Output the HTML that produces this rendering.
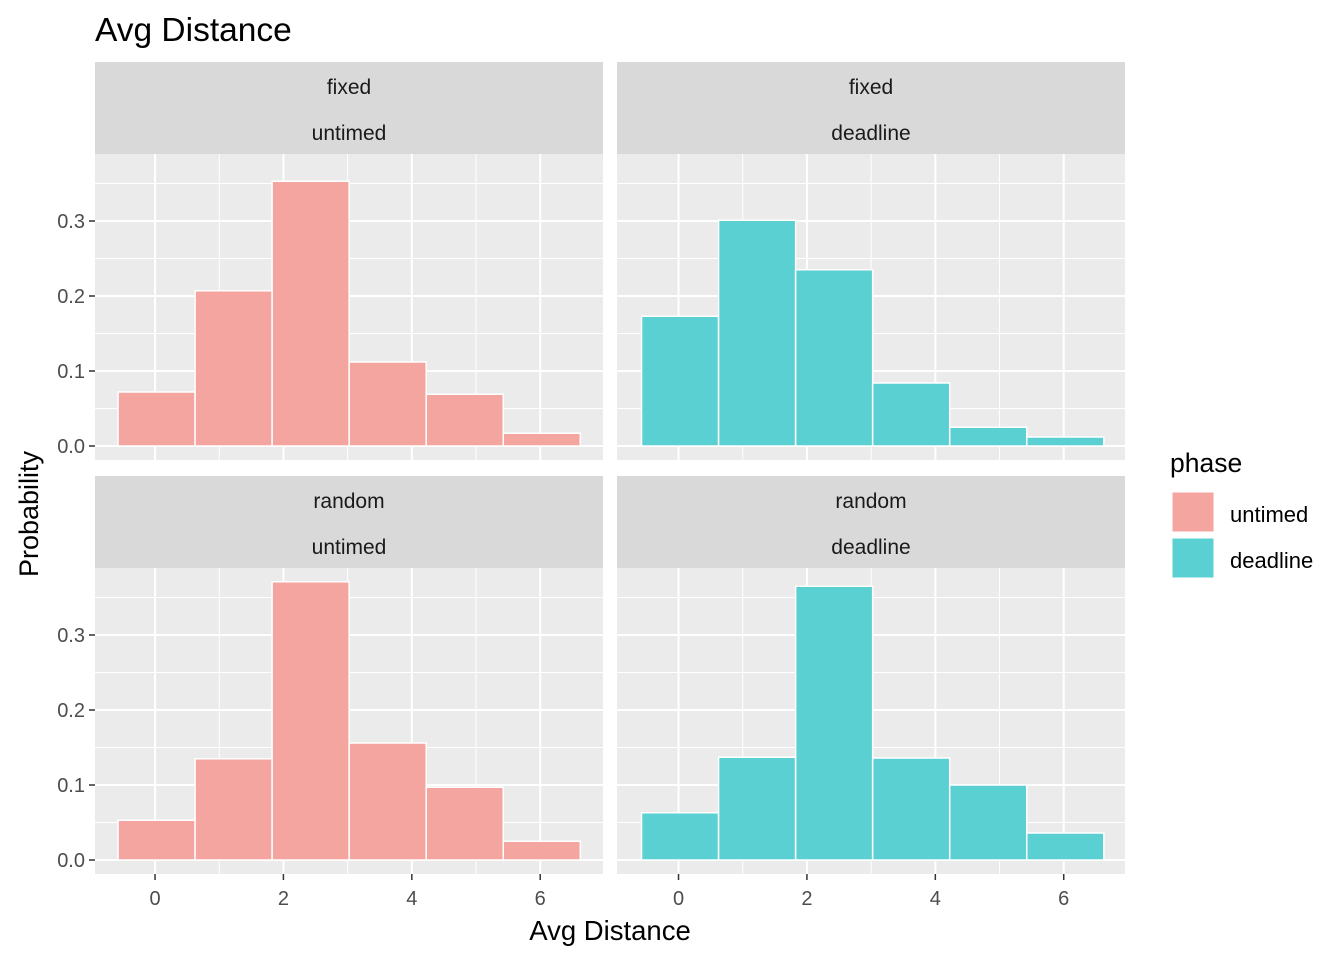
<!DOCTYPE html>
<html><head><meta charset="utf-8"><style>
body{margin:0;background:#fff;font-family:"Liberation Sans",Arial,sans-serif}
svg text{font-family:"Liberation Sans",Arial,sans-serif}
</style></head><body>
<svg id="c" width="1344" height="960" xmlns="http://www.w3.org/2000/svg">
<rect width="1344" height="960" fill="#fff"/>
<text x="95" y="41" font-size="33.5" fill="#000">Avg Distance</text>
<text x="610" y="940" font-size="27.5" text-anchor="middle">Avg Distance</text>
<text transform="translate(38,514) rotate(-90)" font-size="27" text-anchor="middle">Probability</text>
<g>
<text x="1170" y="472" font-size="26.5">phase</text>
<rect x="1172" y="492" width="42" height="40" fill="#F4A59F" stroke="#fff"/>
<text x="1230" y="522" font-size="22">untimed</text>
<rect x="1172" y="538" width="42" height="40" fill="#5BD0D3" stroke="#fff"/>
<text x="1230" y="568" font-size="22">deadline</text>
</g>
<g id="panels"></g>
</svg>
<script>
const binEdges = [-0.576, 0.624, 1.824, 3.024, 4.224, 5.424, 6.624];
const fixedUntimed = [0.072, 0.207, 0.353, 0.112, 0.069, 0.017];
const fixedDeadline = [0.173, 0.301, 0.235, 0.084, 0.025, 0.012];
const randomUntimed = [0.053, 0.135, 0.371, 0.156, 0.097, 0.025];
const randomDeadline = [0.063, 0.137, 0.365, 0.136, 0.100, 0.036];
const xTicks = [0, 2, 4, 6];
const yTicks = [0, 0.1, 0.2, 0.3];
const yTickLabels = ["0.0", "0.1", "0.2", "0.3"];

const NS = "http://www.w3.org/2000/svg";
const root = document.getElementById('panels');
function mk(tag, attrs, parent){const e=document.createElementNS(NS,tag);for(const k in attrs)e.setAttribute(k,attrs[k]);parent.appendChild(e);return e;}

const panels = [
 {name:'fixed-untimed', l1:'fixed', l2:'untimed', data:fixedUntimed, x0:95, y0:154, col:'#F4A59F', left:true, bottom:false},
 {name:'fixed-deadline', l1:'fixed', l2:'deadline', data:fixedDeadline, x0:617, y0:154, col:'#5BD0D3', left:false, bottom:false},
 {name:'random-untimed', l1:'random', l2:'untimed', data:randomUntimed, x0:95, y0:568, col:'#F4A59F', left:true, bottom:true},
 {name:'random-deadline', l1:'random', l2:'deadline', data:randomDeadline, x0:617, y0:568, col:'#5BD0D3', left:false, bottom:true}
];
const W=508, H=306, xmin=-0.935, ppx=64.2, ppy=750, zeroOff=292;

panels.forEach(p=>{
  const g = mk('g',{},root);
  
  
  const shift = p.left ? 0 : 1.5;
  const X = v => p.x0 + shift + (v - xmin)*ppx;
  const Y = v => p.y0 + zeroOff - v*ppy;
  const strip = mk('rect',{x:p.x0,y:p.y0-92,width:W,height:92,fill:'#D9D9D9'},g);
  
  
  const t1 = mk('text',{x:p.x0+W/2,y:p.y0-60,'font-size':21,'text-anchor':'middle',fill:'#1a1a1a'},g); t1.textContent=p.l1;
  
  
  const t2 = mk('text',{x:p.x0+W/2,y:p.y0-14,'font-size':21,'text-anchor':'middle',fill:'#1a1a1a'},g); t2.textContent=p.l2;
  
  
  mk('rect',{x:p.x0,y:p.y0,width:W,height:H,fill:'#EBEBEB'},g);
  [-1,1,3,5,7].forEach(v=>{const x=X(v); if(x>p.x0&&x<p.x0+W) mk('line',{x1:x,x2:x,y1:p.y0,y2:p.y0+H,stroke:'#fff','stroke-width':1},g);});
  [0.05,0.15,0.25,0.35].forEach(v=>mk('line',{x1:p.x0,x2:p.x0+W,y1:Y(v),y2:Y(v),stroke:'#fff','stroke-width':1},g));
  xTicks.forEach(v=>mk('line',{x1:X(v),x2:X(v),y1:p.y0,y2:p.y0+H,stroke:'#fff','stroke-width':2},g));
  yTicks.forEach(v=>mk('line',{x1:p.x0,x2:p.x0+W,y1:Y(v),y2:Y(v),stroke:'#fff','stroke-width':2},g));
  p.data.forEach((v,i)=>{
    const r = mk('rect',{x:X(binEdges[i]),y:Y(v),width:X(binEdges[i+1])-X(binEdges[i]),height:Y(0)-Y(v),fill:p.col,stroke:'#fff','stroke-width':1.5},g);
    
    
  });
  if(p.left){
    yTicks.forEach((v,i)=>{
      mk('line',{x1:p.x0-6,x2:p.x0,y1:Y(v),y2:Y(v),stroke:'#333','stroke-width':1.5},g);
      const t=mk('text',{x:p.x0-10,y:Y(v)+7,'font-size':20,'text-anchor':'end',fill:'#4d4d4d'},g); t.textContent=yTickLabels[i];
      
      
    });
  }
  if(p.bottom){
    xTicks.forEach(v=>{
      mk('line',{x1:X(v),x2:X(v),y1:p.y0+H,y2:p.y0+H+6,stroke:'#333','stroke-width':1.5},g);
      const t=mk('text',{x:X(v),y:p.y0+H+31,'font-size':20,'text-anchor':'middle',fill:'#4d4d4d'},g); t.textContent=String(v);
      
      
    });
  }
});
</script>
</body></html>
